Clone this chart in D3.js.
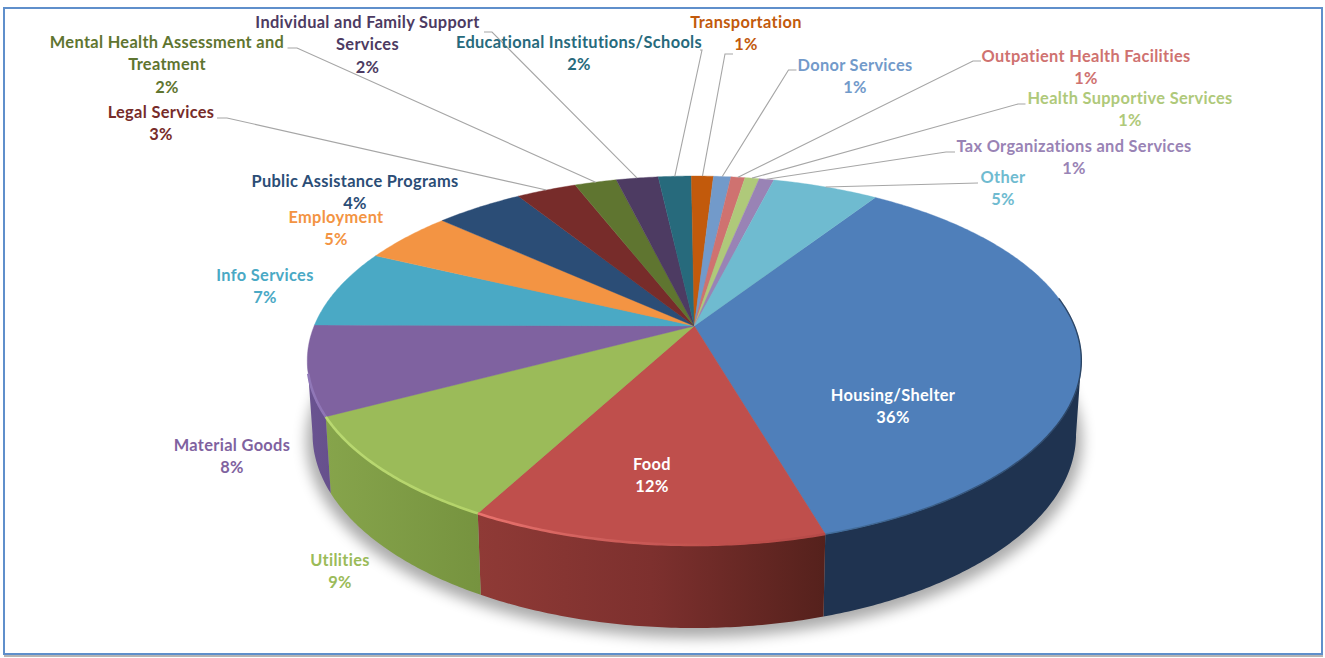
<!DOCTYPE html>
<html>
<head>
<meta charset="utf-8">
<script src="https://d3js.org/d3.v7.min.js"></script>
<style>
    html, body { margin: 0; padding: 0; background: #fff; }
    svg { display: block; }
    .label { font-family: Lato, sans-serif; font-weight: 700; font-size: 16.4px; letter-spacing: 0.32px; text-anchor: middle; }
    .leader { fill: none; stroke: #a6a6a6; stroke-width: 1.1; }
</style>
</head>
<body>
<div id="chart"></div>
<script>
// values
var categories = ["Housing/Shelter", "Food", "Utilities", "Material Goods", "Info Services", "Employment",
    "Public Assistance Programs", "Legal Services", "Mental Health Assessment and\nTreatment",
    "Individual and Family Support\nServices", "Educational Institutions/Schools", "Transportation",
    "Donor Services", "Outpatient Health Facilities", "Health Supportive Services",
    "Tax Organizations and Services", "Other"];

// printed percentages
var percentLabels = ["36%", "12%", "9%", "8%", "7%", "5%", "4%", "3%", "2%", "2%", "2%", "1%", "1%", "1%", "1%", "1%", "5%"];

// slice sizes as drawn (the drawn wedges are not rounded like the labels)
var shares = [36.15, 12.45, 9.4, 7.8, 6.9, 4.6, 4.4, 3.0, 2.1, 2.1, 1.65, 1.1, 0.87, 0.7, 0.71, 0.74, 5.3];

var sliceColors = ["#4f7fba", "#bf4f4c", "#9bbb59", "#7f62a0", "#4aa9c5", "#f39443", "#2b4d76", "#772c2a", "#5f7530",
    "#4d3b62", "#276a7c", "#c25a0c", "#729aca", "#cf7270", "#afc97a", "#9983b5", "#6fbbd0"];

var labelColors = ["#ffffff", "#ffffff", "#9bbb59", "#7f62a0", "#4aa9c5", "#f39443", "#2b4d76", "#772c2a", "#5f7530",
    "#4d3b62", "#276a7c", "#c25a0c", "#729aca", "#cf7270", "#afc97a", "#9983b5", "#6fbbd0"];

// label layout: centre x and first baseline
var labelX = [893, 652, 340, 232, 265, 336, 355, 161, 167, 367.5, 579, 746, 855, 1086, 1130, 1074, 1003];
var labelY = [401, 470, 566, 451, 281, 223, 187, 118, 48, 28, 48, 28, 71, 62, 104, 152, 183];
var lineGap = 22.3;

// leader lines: [outer x, knee x, y] for the labels that have one
var leaders = [null, null, null, null, null, null, null,
    [217, 227, 118], [287.5, 297, 48], [484, 492, 32], [700, 702, 50], [733, 725, 54],
    [796.5, 788.5, 70], [981, 973, 61], [1025.5, 1018, 104], [955, 946, 152], [978, 978, 183]];

// wall colours, left to right across each visible side
var wallStops = {
    0: ["#1f3350", "#1f3350"],
    1: ["#8f3a36", "#7d302e", "#55211c"],
    2: ["#86a44b", "#76933f"],
    3: ["#6a5391", "#66508c"]
};
var rimStops = {
    0: ["#44709f", "#2c4565"],
    1: ["#ea736e", "#d0605c", "#c0504d", "#b54a47"],
    2: ["#b9d971", "#b4d36a"],
    3: ["#9078b8", "#8f74b5"]
};

var svgWidth = 1325;
var svgHeight = 658;

var svg = d3.select("#chart").append("svg")
    .attr("width", svgWidth)
    .attr("height", svgHeight);

var defs = svg.append("defs");

defs.append("filter").attr("id", "soft")
    .attr("x", "-10%").attr("y", "-10%").attr("width", "120%").attr("height", "120%")
    .append("feGaussianBlur").attr("stdDeviation", 7);

defs.append("filter").attr("id", "edge")
    .attr("x", "-5%").attr("y", "-20%").attr("width", "110%").attr("height", "140%")
    .append("feGaussianBlur").attr("stdDeviation", 0.6);

// frame
svg.append("line")
    .attr("x1", 4).attr("x2", 1323).attr("y1", 656).attr("y2", 656)
    .attr("stroke", "#b5b5b5").attr("stroke-width", 2);
svg.append("rect")
    .attr("x", 4).attr("y", 8).attr("width", 1318).attr("height", 646)
    .attr("fill", "#fff").attr("stroke", "#5f8fcb").attr("stroke-width", 2);

// perspective of the disc: the near half is drawn larger than the far half
var tilt = 0.187;
var topDisc = { cx: 694.3, cy: 326, bx: 380.2, ay: 178 };
var baseDisc = { cx: 694.3, cy: 398, bx: 375, ay: 187 };

function project(disc, angle) {
    var u = Math.sin(angle);
    var v = -Math.cos(angle);
    var w = 1 - tilt * v;
    return [disc.cx + disc.bx * u / w, disc.cy + disc.ay * v / w];
}

function rimPoints(disc, a0, a1) {
    var n = Math.max(2, Math.ceil((a1 - a0) / 0.01));
    return d3.range(n + 1).map(function(i) {
        return project(disc, a0 + (a1 - a0) * i / n);
    });
}

var line = d3.line();
var deg = Math.PI / 180;
var startAngle = 33.4 * deg;

var pie = d3.pie()
    .sort(null)
    .startAngle(startAngle)
    .endAngle(startAngle + 2 * Math.PI);

var slices = pie(shares);

// the side is only seen between the two widest points of the disc
var wallFrom = 100.8 * deg;
var wallTo = 259.2 * deg;

function gradient(id, stops, x1, x2) {
    var g = defs.append("linearGradient").attr("id", id)
        .attr("gradientUnits", "userSpaceOnUse")
        .attr("x1", x1).attr("x2", x2).attr("y1", 0).attr("y2", 0);
    stops.forEach(function(c, i) {
        g.append("stop").attr("offset", i / (stops.length - 1)).attr("stop-color", c);
    });
    return "url(#" + id + ")";
}

// shadow under the pie
svg.append("path")
    .attr("d", line(rimPoints({ cx: 694.3, cy: 404, bx: 381, ay: 190 }, 0, 2 * Math.PI)) + "Z")
    .attr("fill", "#000")
    .attr("opacity", 0.33)
    .attr("filter", "url(#soft)");

// side walls
var wallGroup = svg.append("g");
var rimGroup = svg.append("g");

slices.forEach(function(d, i) {
    var a0 = Math.max(d.startAngle, wallFrom);
    var a1 = Math.min(d.endAngle, wallTo);
    if (a1 <= a0) return;

    var top = rimPoints(topDisc, a0, a1);
    var base = rimPoints(baseDisc, a0, a1).reverse();
    var xs = top.concat(base).map(function(p) { return p[0]; });
    var left = d3.min(xs);
    var right = d3.max(xs);

    wallGroup.append("path")
        .attr("d", line(top.concat(base)) + "Z")
        .attr("fill", gradient("wall" + i, wallStops[i], left, right));

    // the dark edge of the big slice carries on up past the wall
    var rimStart = i === 0 ? a0 - 20 * deg : a0;
    var rimEnd = i === 3 ? a1 - 4 * deg : a1;
    rimGroup.append("path")
        .attr("d", line(rimPoints(topDisc, rimStart, rimEnd)))
        .attr("fill", "none")
        .attr("stroke", gradient("rim" + i, rimStops[i], left, right))
        .attr("stroke-width", i === 0 ? 1.4 : 2.6)
        .attr("filter", "url(#edge)");
});

// top face
svg.append("g").attr("class", "top").selectAll("path")
    .data(slices)
    .enter()
    .append("path")
    .attr("d", function(d) {
        return line([[topDisc.cx, topDisc.cy]].concat(rimPoints(topDisc, d.startAngle, d.endAngle))) + "Z";
    })
    .attr("fill", function(d, i) { return sliceColors[i]; })
    .attr("stroke", function(d, i) { return sliceColors[i]; })
    .attr("stroke-width", 0.4);

rimGroup.raise();

// leader lines run from the label to the middle of the slice on the rim
svg.append("g").selectAll("path")
    .data(slices)
    .enter()
    .filter(function(d, i) { return leaders[i] !== null; })
    .append("path")
    .attr("class", "leader")
    .attr("d", function(d) {
        var l = leaders[d.index];
        return line([[l[0], l[2]], [l[1], l[2]], project(topDisc, (d.startAngle + d.endAngle) / 2)]);
    });

// labels
var labels = svg.append("g").selectAll("text")
    .data(categories)
    .enter()
    .append("text")
    .attr("class", "label")
    .attr("fill", function(d, i) { return labelColors[i]; })
    .attr("x", function(d, i) { return labelX[i]; })
    .attr("y", function(d, i) { return labelY[i]; });

labels.each(function(d, i) {
    var text = d3.select(this);
    d.split("\n").concat(percentLabels[i]).forEach(function(t, j) {
        text.append("tspan")
            .attr("x", labelX[i])
            .attr("dy", j === 0 ? 0 : lineGap)
            .text(t);
    });
});
</script>
</body>
</html>
